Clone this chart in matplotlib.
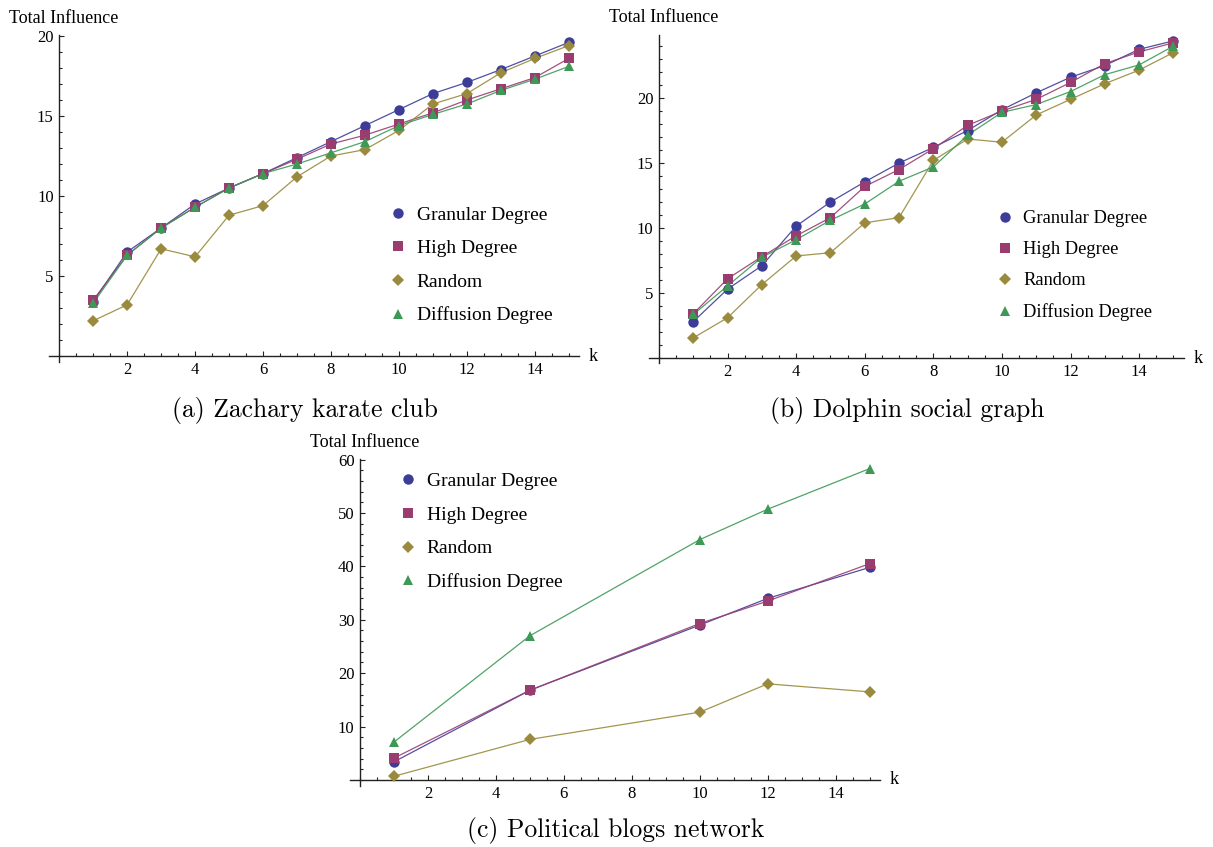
"""Recria a figura de influência total (3 painéis: karate, golfinhos, blogs)."""

import matplotlib

matplotlib.use("Agg")
import matplotlib.pyplot as plt
from matplotlib.lines import Line2D
from matplotlib.ticker import MultipleLocator

# ── Dados ────────────────────────────────────────────────────────────────
K_SMALL = list(range(1, 16))
K_BLOGS = [1, 5, 10, 12, 15]

SERIES = ["Granular Degree", "High Degree", "Random", "Diffusion Degree"]

# (a) Zachary karate club
karate_granular = [3.4, 6.5, 8.0, 9.5, 10.5, 11.4, 12.4, 13.4, 14.4, 15.4, 16.4, 17.1, 17.9, 18.75, 19.6]
karate_high = [3.5, 6.3, 8.0, 9.3, 10.5, 11.4, 12.3, 13.25, 13.8, 14.5, 15.2, 16.0, 16.7, 17.4, 18.6]
karate_random = [2.2, 3.2, 6.7, 6.2, 8.8, 9.4, 11.2, 12.5, 12.9, 14.1, 15.75, 16.4, 17.7, 18.6, 19.4]
karate_diffusion = [3.3, 6.3, 8.0, 9.3, 10.5, 11.4, 12.0, 12.7, 13.4, 14.4, 15.1, 15.75, 16.6, 17.3, 18.1]

# (b) Dolphin social graph
dolphin_granular = [2.8, 5.3, 7.1, 10.15, 12.0, 13.55, 15.0, 16.2, 17.5, 19.1, 20.4, 21.6, 22.5, 23.75, 24.4]
dolphin_high = [3.4, 6.1, 7.8, 9.4, 10.8, 13.2, 14.5, 16.1, 17.9, 19.0, 19.9, 21.2, 22.65, 23.55, 24.25]
dolphin_random = [1.55, 3.1, 5.65, 7.85, 8.1, 10.4, 10.8, 15.2, 16.85, 16.6, 18.7, 19.9, 21.1, 22.15, 23.5]
dolphin_diffusion = [3.35, 5.55, 7.75, 9.1, 10.6, 11.85, 13.6, 14.7, 17.15, 18.9, 19.5, 20.5, 21.8, 22.55, 24.0]

# (c) Political blogs network
blogs_granular = [3.4, 16.8, 29.0, 34.0, 39.8]
blogs_high = [4.1, 16.8, 29.3, 33.5, 40.5]
blogs_random = [0.7, 7.6, 12.7, 18.0, 16.5]
blogs_diffusion = [7.1, 27.0, 45.0, 50.7, 58.3]

# ── Estilo (cores padrão do Mathematica) ─────────────────────────────────
CORES = ["#3d3d99", "#993d71", "#998a3d", "#3d9955"]
MARCADORES = ["o", "s", "D", "^"]
TAMANHOS = [7.5, 6.8, 6.0, 7.0]
FONTE_EIXO = "Liberation Serif"
FONTE_LEGENDA_FIG = "cmr10"

W, H = 1213, 847


def _painel(fig, rect_px, k, series, ylim, y_major, y_minor,
            leg_pos, leg_spacing, leg_size):
    left, top, width, height = rect_px
    ax = fig.add_axes([left / W, 1 - (top + height) / H, width / W, height / H])

    for vals, cor in zip(series, CORES):
        ax.plot(k, vals, color=cor, linewidth=0.9, alpha=0.9, zorder=2)
    for vals, cor, mk, ms in zip(series, CORES, MARCADORES, TAMANHOS):
        ax.plot(k, vals, linestyle="none", marker=mk, markersize=ms,
                color=cor, markeredgewidth=0, zorder=3)

    ax.set_xlim(-0.3, 15.3)
    ax.set_ylim(*ylim)

    # Eixos estilo Mathematica: cruzam na origem
    for lado in ("top", "right"):
        ax.spines[lado].set_visible(False)
    ax.spines["left"].set_position(("data", 0))
    ax.spines["bottom"].set_position(("data", 0))
    for lado in ("left", "bottom"):
        ax.spines[lado].set_linewidth(1.0)
        ax.spines[lado].set_color("#222222")

    ax.xaxis.set_minor_locator(MultipleLocator(0.5))
    ax.yaxis.set_minor_locator(MultipleLocator(y_minor))
    ax.set_xticks([t for t in range(2, 16, 2)])
    ax.set_yticks([t for t in range(y_major, int(ylim[1]) + 1, y_major)])

    ax.tick_params(which="both", direction="in", color="#222222", width=0.8,
                   labelsize=12, pad=4)
    ax.tick_params(which="major", length=3.6)
    ax.tick_params(which="minor", length=2.2)
    for lbl in ax.get_xticklabels() + ax.get_yticklabels():
        lbl.set_fontfamily(FONTE_EIXO)

    ax.annotate("Total Influence", xy=(0, 1), xycoords=ax.get_xaxis_transform(),
                xytext=(-50, 17), textcoords="offset pixels", ha="left", va="center",
                fontsize=13, fontfamily=FONTE_EIXO)
    ax.annotate("k", xy=(1, 0), xycoords=ax.get_yaxis_transform(),
                xytext=(10, 0), textcoords="offset pixels", ha="left", va="center",
                fontsize=13, fontfamily=FONTE_EIXO)

    handles = [
        Line2D([], [], linestyle="none", marker=mk, markersize=ms,
               color=cor, markeredgewidth=0)
        for cor, mk, ms in zip(CORES, MARCADORES, TAMANHOS)
    ]
    ax.legend(handles, SERIES, loc="upper left", bbox_to_anchor=leg_pos,
              frameon=False, borderpad=0, handlelength=0.75, handletextpad=0.6,
              labelspacing=leg_spacing,
              prop={"family": FONTE_EIXO, "size": leg_size})
    return ax


def main():
    fig = plt.figure(figsize=(W / 100, H / 100), dpi=100)

    # (a) px: left, top, width, height
    _painel(fig, (49, 35.2, 530, 327.2), K_SMALL,
            [karate_granular, karate_high, karate_random, karate_diffusion],
            (-0.4, 20.05), 5, 1, (0.626, 0.508), 0.82, 14)
    # (b)
    _painel(fig, (648.7, 35.0, 535, 328.2), K_SMALL,
            [dolphin_granular, dolphin_high, dolphin_random, dolphin_diffusion],
            (-0.4, 24.85), 5, 1, (0.636, 0.494), 0.76, 13.3)
    # (c)
    _painel(fig, (349.8, 459.0, 530, 327.4), K_BLOGS,
            [blogs_granular, blogs_high, blogs_random, blogs_diffusion],
            (-1.2, 60.1), 10, 2, (0.077, 0.988), 0.82, 14)

    fig.text(305 / W, 1 - 410 / H, "(a) Zachary karate club", ha="center", va="center",
             fontsize=18.5, fontfamily=FONTE_LEGENDA_FIG)
    fig.text(907 / W, 1 - 410 / H, "(b) Dolphin social graph", ha="center", va="center",
             fontsize=18.5, fontfamily=FONTE_LEGENDA_FIG)
    fig.text(616 / W, 1 - 830 / H, "(c) Political blogs network", ha="center", va="center",
             fontsize=18.5, fontfamily=FONTE_LEGENDA_FIG)

    fig.savefig("out.png", dpi=100)
    plt.close(fig)


if __name__ == "__main__":
    main()
